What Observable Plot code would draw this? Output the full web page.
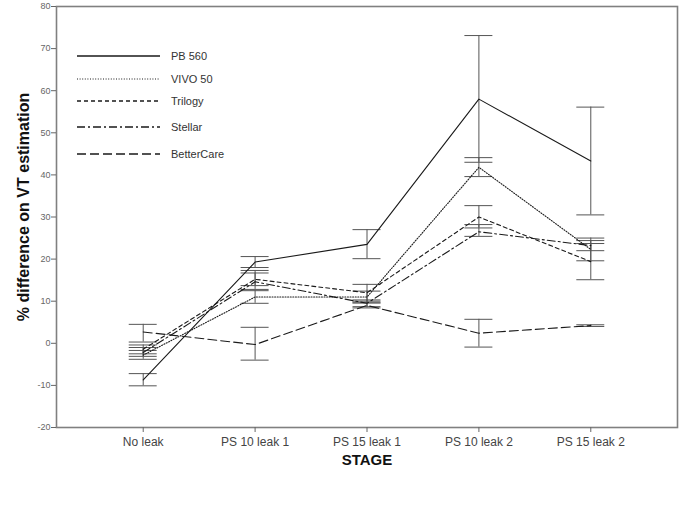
<!DOCTYPE html>
<html>
<head>
<meta charset="utf-8">
<script src="https://cdn.jsdelivr.net/npm/d3@7"></script>
<script src="https://cdn.jsdelivr.net/npm/@observablehq/plot@0.6"></script>
<style>
  body { margin: 0; background: #fff; }
  #wrap { position: relative; width: 685px; height: 513px; font-family: "Liberation Sans", Arial, sans-serif; }
  #legend { position: absolute; left: 0; top: 0; }
</style>
</head>
<body>
<div id="wrap"></div>
<script>
const stages = ["No leak", "PS 10 leak 1", "PS 15 leak 1", "PS 10 leak 2", "PS 15 leak 2"];
const seriesNames = ["PB 560", "VIVO 50", "Trilogy", "Stellar", "BetterCare"];

const pb560Mean = [-8.7, 19.3, 23.5, 58.0, 43.3];
const pb560Low  = [-10.1, 18.0, 20.1, 43.0, 30.5];
const pb560High = [-7.2, 20.6, 27.0, 73.1, 56.1];

const vivo50Mean = [-2.8, 11.0, 11.0, 41.8, 22.3];
const vivo50Low  = [-3.8, 9.5, 9.6, 39.6, 19.6];
const vivo50High = [-1.7, 12.5, 12.4, 44.1, 25.0];

const trilogyMean = [-1.4, 15.2, 12.0, 30.0, 19.4];
const trilogyLow  = [-2.5, 13.7, 10.0, 27.4, 15.1];
const trilogyHigh = [-0.4, 16.7, 14.0, 32.7, 23.7];

const stellarMean = [-2.2, 14.6, 9.5, 26.5, 23.2];
const stellarLow  = [-3.1, 12.8, 8.7, 25.4, 22.0];
const stellarHigh = [-1.0, 17.3, 10.3, 28.2, 24.4];

const betterCareMean = [2.7, -0.3, 9.0, 2.4, 4.2];
const betterCareLow  = [0.3, -4.0, 8.4, -0.9, 4.0];
const betterCareHigh = [4.5, 3.8, 9.6, 5.7, 4.4];

const yTicks = [-20, -10, 0, 10, 20, 30, 40, 50, 60, 70, 80];

const seriesData = [
  [pb560Mean, pb560Low, pb560High],
  [vivo50Mean, vivo50Low, vivo50High],
  [trilogyMean, trilogyLow, trilogyHigh],
  [stellarMean, stellarLow, stellarHigh],
  [betterCareMean, betterCareLow, betterCareHigh]
];
const dashes = {
  "PB 560": null,
  "VIVO 50": "1,1.6",
  "Trilogy": "4,3",
  "Stellar": "8,3,2,3",
  "BetterCare": "9,4"
};

const rows = [];
seriesNames.forEach((name, si) => {
  const [m, lo, hi] = seriesData[si];
  stages.forEach((st, i) => rows.push({series: name, i, stage: st, mean: m[i], low: lo[i], high: hi[i]}));
});

const capHalf = 0.125;
const marks = [];
// error bars
marks.push(Plot.ruleX(rows, {x: "i", y1: "low", y2: "high", stroke: "#555", strokeWidth: 1}));
marks.push(Plot.ruleY(rows, {y: "low", x1: d => d.i - capHalf, x2: d => d.i + capHalf, stroke: "#555", strokeWidth: 1}));
marks.push(Plot.ruleY(rows, {y: "high", x1: d => d.i - capHalf, x2: d => d.i + capHalf, stroke: "#555", strokeWidth: 1}));
// lines
seriesNames.forEach(name => {
  marks.push(Plot.line(rows.filter(d => d.series === name), {
    x: "i", y: "mean", stroke: "#1a1a1a", strokeWidth: 1.1,
    strokeDasharray: dashes[name] || undefined
  }));
});
marks.push(Plot.frame({stroke: "#808080", strokeWidth: 1.6}));
marks.push(Plot.axisY(yTicks, {tickSize: 5, tickPadding: 1, fontSize: 9, color: "#666", stroke: "#666", label: null, tickFormat: d => String(d)}));
marks.push(Plot.axisX([0, 1, 2, 3, 4], {tickSize: 5, tickPadding: 5, fontSize: 12, color: "#444", stroke: "#666", tickFormat: i => stages[i], label: null}));
marks.push(Plot.text(["STAGE"], {frameAnchor: "bottom", dy: 33, fontSize: 15, fontWeight: "bold", fill: "#111", lineAnchor: "middle"}));
marks.push(Plot.text(["% difference on VT estimation"], {frameAnchor: "left", dx: -33, dy: -10, rotate: -90, textAnchor: "middle", fontSize: 16, fontWeight: "bold", fill: "#111", lineAnchor: "middle"}));

const chart = Plot.plot({
  width: 685,
  height: 513,
  marginLeft: 56,
  marginRight: 8,
  marginTop: 6,
  marginBottom: 86,
  style: {fontFamily: "'Liberation Sans', Arial, sans-serif", background: "#fff"},
  x: {type: "linear", domain: [-0.775, 4.775]},
  y: {domain: [-20, 80]},
  marks
});
document.getElementById("wrap").appendChild(chart);

// legend overlay
const legendY = [56, 79, 101, 127, 154];
const svg = d3.select("#wrap").append("svg").attr("id", "legend").attr("width", 685).attr("height", 513);
seriesNames.forEach((name, k) => {
  const g = svg.append("g");
  g.append("line").attr("x1", 77).attr("x2", 160).attr("y1", legendY[k]).attr("y2", legendY[k])
    .attr("stroke", "#1a1a1a").attr("stroke-width", name === "VIVO 50" ? 1 : 1.6)
    .attr("stroke-dasharray", dashes[name]);
  g.append("text").attr("x", 171).attr("y", legendY[k]).attr("dy", "0.35em")
    .attr("font-size", 11).attr("fill", "#333")
    .attr("font-family", "'Liberation Sans', Arial, sans-serif").text(name);
});
</script>
</body>
</html>
